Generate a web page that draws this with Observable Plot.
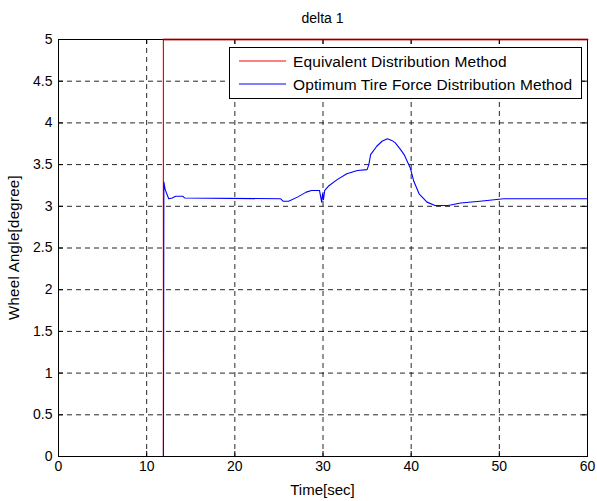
<!DOCTYPE html>
<html>
<head>
<meta charset="utf-8">
<script src="https://cdn.jsdelivr.net/npm/d3@7"></script>
<script src="https://cdn.jsdelivr.net/npm/@observablehq/plot@0.6"></script>
<style>
  html, body { margin: 0; padding: 0; background: #fff; }
  #chart svg { display: block; }
</style>
</head>
<body>
<div id="chart"></div>
<script>
// Steering angle of wheel 1 (delta 1) under two torque distribution strategies.
const titleText = "delta 1";
const xLabel = "Time[sec]";
const yLabel = "Wheel Angle[degree]";
const seriesNames = ["Equivalent Distribution Method", "Optimum Tire Force Distribution Method"];
const seriesColors = ["#ff0000", "#0000ff"];

const xTicks = [0, 10, 20, 30, 40, 50, 60];
const yTicks = [0, 0.5, 1, 1.5, 2, 2.5, 3, 3.5, 4, 4.5, 5];
const yTickLabels = ["0", "0.5", "1", "1.5", "2", "2.5", "3", "3.5", "4", "4.5", "5"];

// Equivalent distribution: steps from 0 to the upper limit at ~11.9 s
const equivTime = [0, 11.9, 11.9, 60];
const equivAngle = [0, 0, 5, 5];

// Optimum tire force distribution
const optTime = [0, 11.9, 11.95, 12.1, 12.5, 12.9, 13.3, 14.1, 14.3, 25.2, 25.5, 26.1, 27.1, 28.1, 28.7, 29.6,
  29.85, 29.95, 30.05, 30.2, 30.6, 31.6, 32.7, 33.9, 35.0, 35.2, 35.4, 36.1, 36.7, 37.3, 37.8, 38.2, 38.8, 39.2,
  39.9, 40.3, 40.9, 41.8, 42.7, 44.2, 45.6, 47.8, 50.5, 60];
const optAngle = [0, 0, 3.29, 3.2, 3.09, 3.1, 3.12, 3.12, 3.1, 3.09, 3.06, 3.06, 3.11, 3.17, 3.19, 3.19,
  3.05, 3.15, 3.08, 3.19, 3.24, 3.32, 3.39, 3.43, 3.44, 3.5, 3.62, 3.72, 3.78, 3.81, 3.79, 3.76, 3.68, 3.62,
  3.46, 3.30, 3.15, 3.05, 3.01, 3.01, 3.04, 3.06, 3.09, 3.09];

const equiv = equivTime.map((t, i) => ({t, v: equivAngle[i]}));
const opt = optTime.map((t, i) => ({t, v: optAngle[i]}));

const font = "Arial, 'Liberation Sans', Helvetica, sans-serif";
const W = 597, H = 501;
const mL = 58, mT = 39, mR = 10, mB = 45;

// inner tick lengths in data units
const tickLenY = 5 * 5 / (H - mT - mB);
const tickLenX = 5 * 60 / (W - mL - mR);

const plot = Plot.plot({
  width: W,
  height: H,
  marginLeft: mL,
  marginTop: mT,
  marginRight: mR,
  marginBottom: mB,
  style: {background: "#fff", fontFamily: font, fontSize: "14px", color: "#000", overflow: "visible"},
  x: {domain: [0, 60], ticks: xTicks},
  y: {domain: [0, 5], ticks: yTicks},
  marks: [
    Plot.gridX(xTicks.slice(1, -1), {stroke: "#000", strokeOpacity: 0.85, strokeDasharray: "5,4"}),
    Plot.gridY(yTicks.slice(1, -1), {stroke: "#000", strokeOpacity: 0.85, strokeDasharray: "5,4"}),
    // inward tick marks on all four sides
    Plot.ruleX(xTicks, {y1: 0, y2: tickLenY, stroke: "#000"}),
    Plot.ruleX(xTicks, {y1: 5 - tickLenY, y2: 5, stroke: "#000"}),
    Plot.ruleY(yTicks, {x1: 0, x2: tickLenX, stroke: "#000"}),
    Plot.ruleY(yTicks, {x1: 60 - tickLenX, x2: 60, stroke: "#000"}),
    Plot.axisX(xTicks, {tickSize: 0, tickPadding: 5, fontSize: 14, label: null}),
    Plot.axisY(yTicks, {tickSize: 0, tickPadding: 6, fontSize: 14, label: null, tickFormat: (d, i) => yTickLabels[i]}),
    Plot.line(equiv, {x: "t", y: "v", stroke: seriesColors[0], strokeWidth: 1.2, clip: true}),
    Plot.frame({stroke: "#000"}),
    Plot.line(equiv.filter(d => d.v === 5), {x: "t", y: "v", stroke: "#b00000", strokeWidth: 2, strokeOpacity: 0.75}),
    Plot.line(opt, {x: "t", y: "v", stroke: seriesColors[1], strokeWidth: 1.1, clip: true})
  ]
});

const svg = d3.select(plot);

svg.append("text")
  .attr("x", mL + (W - mL - mR) / 2).attr("y", 23)
  .attr("text-anchor", "middle").attr("font-family", font).attr("font-size", 14)
  .attr("fill", "#000").text(titleText);

svg.append("text")
  .attr("x", mL + (W - mL - mR) / 2).attr("y", 495)
  .attr("text-anchor", "middle").attr("font-family", font).attr("font-size", 15)
  .attr("fill", "#000").text(xLabel);

svg.append("text")
  .attr("transform", `translate(19,${mT + (H - mT - mB) / 2}) rotate(-90)`)
  .attr("text-anchor", "middle").attr("font-family", font).attr("font-size", 15)
  .attr("letter-spacing", 0.3)
  .attr("fill", "#000").text(yLabel);

// legend box, upper right
const lg = svg.append("g").attr("transform", "translate(229,46)");
lg.append("rect").attr("x", 0.5).attr("y", 1.5).attr("width", 352).attr("height", 51)
  .attr("fill", "#fff").attr("stroke", "#000");
seriesNames.forEach((name, i) => {
  const y = 15 + i * 23;
  lg.append("line").attr("x1", 10).attr("x2", 57).attr("y1", y).attr("y2", y)
    .attr("stroke", seriesColors[i]).attr("stroke-width", 1);
  lg.append("text").attr("x", 64).attr("y", y + 6)
    .attr("text-anchor", "start")
    .attr("font-family", font).attr("font-size", 15.5).attr("letter-spacing", 0.12)
    .attr("fill", "#000").text(name);
});

document.getElementById("chart").append(plot);
</script>
</body>
</html>
